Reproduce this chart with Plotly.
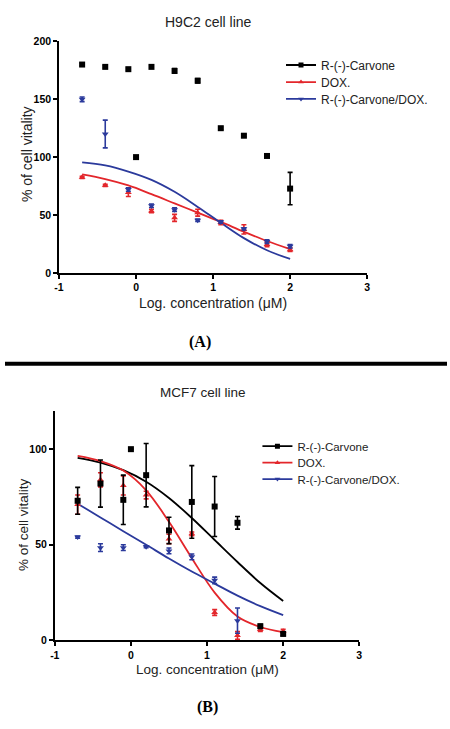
import plotly.graph_objects as go

W, H = 450, 729

# ---------------- data ----------------
log_conc = [-0.7, -0.4, -0.1, 0.2, 0.5, 0.8, 1.1, 1.4, 1.7, 2.0]
carvone_x = [-0.7, -0.4, -0.1, 0.0, 0.2, 0.5, 0.8, 1.1, 1.4, 1.7, 2.0]
fit_x = [-0.7, -0.4, -0.1, 0.2, 0.5, 0.8, 1.1, 1.4, 1.7, 2.0]

# H9C2 (A)
h9c2_carvone = [180, 178, 176, 100, 178, 174.5, 166, 125, 118.5, 101, 72.8]
h9c2_carvone_err = [1, 1, 1, 0, 1, 2, 2, 1, 1, 1, 14]
h9c2_dox = [82.5, 75.6, 69.5, 53.5, 47.5, 52, 43.5, 37.5, 24.5, 20]
h9c2_dox_err = [1, 1, 3.5, 1.5, 3, 3, 2, 4, 2, 1.5]
h9c2_combo = [150, 120, 72, 58, 54.6, 45.5, 44, 38, 27, 23]
h9c2_combo_err = [2, 12, 1.5, 1.5, 1.5, 1, 1, 1, 1.5, 1.5]
h9c2_dox_fit = [85, 81, 75.5, 68, 60, 52, 44, 35.5, 27.5, 20.5]
h9c2_combo_fit = [95.5, 92.8, 87.5, 80.3, 70, 57, 43.3, 30, 19.5, 12]

# MCF7 (B)
mcf7_carvone = [73, 82, 73.5, 100, 86.4, 57.5, 72.4, 70, 61.5, 7.4, 3.4]
mcf7_carvone_err = [7, 12.3, 12.9, 0, 16.6, 6.9, 19, 15.7, 3.3, 1, 1]
mcf7_dox = [71, 84, 81, 76, 53, 55.7, 14.6, 2.6, 5.7, 4.8]
mcf7_dox_err = [5, 3.7, 5, 2, 2.5, 1, 1.5, 2, 1, 1]
combo_x_b = [-0.7, -0.4, -0.1, 0.2, 0.5, 0.8, 1.1, 1.4]
mcf7_combo = [54, 48.5, 48.5, 49, 46.8, 43.7, 31.4, 10.3]
mcf7_combo_err = [0.5, 2, 1.5, 0.5, 1.5, 1.5, 1.7, 6.6]
mcf7_carvone_fit = [95.5, 93, 89, 83, 74.5, 64, 52.5, 41, 30, 20.6]
mcf7_dox_fit = [96.5, 93.8, 88.8, 78.5, 62, 43, 25, 12.5, 7, 4.3]
mcf7_combo_fit = [71.5, 64.3, 57.1, 50, 42.8, 36, 29.7, 23.4, 17.9, 13.2]

series_names = ["R-(-)-Carvone", "DOX.", "R-(-)-Carvone/DOX."]
titles = ["H9C2 cell line", "MCF7 cell line"]
panel_labels = ["(A)", "(B)"]
x_ticks = [-1, 0, 1, 2, 3]
x_ticktext = ["-1", "0", "1", "2", "3"]
y_ticks_a = [0, 50, 100, 150, 200]
y_ticks_b = [0, 50, 100]

BLACK, RED, BLUE = "#000000", "#e3262b", "#2b3a9c"
SYMBOLS = ["square", "triangle-up", "triangle-down"]
COLORS = [BLACK, RED, BLUE]

fig = go.Figure()


def px_x(p):
    return p / W


def px_y(p):
    return (H - p) / H


def add_points(x, y, err, color, symbol, xa, ya):
    fig.add_trace(go.Scatter(
        x=x, y=y, mode="markers", xaxis=xa, yaxis=ya, showlegend=False,
        marker=dict(symbol=symbol, size=6, color=color, line=dict(width=0)),
        error_y=dict(type="data", array=err, visible=True, color=color,
                     thickness=1.6, width=2.5),
        cliponaxis=False,
    ))


def add_curve(x, y, color, xa, ya):
    fig.add_trace(go.Scatter(
        x=x, y=y, mode="lines", xaxis=xa, yaxis=ya, showlegend=False,
        line=dict(color=color, width=1.8, shape="spline", smoothing=1.0),
    ))


# Panel A
add_curve(fit_x, h9c2_dox_fit, RED, "x", "y")
add_curve(fit_x, h9c2_combo_fit, BLUE, "x", "y")
add_points(carvone_x, h9c2_carvone, h9c2_carvone_err, BLACK, "square", "x", "y")
add_points(log_conc, h9c2_dox, h9c2_dox_err, RED, "triangle-up", "x", "y")
add_points(log_conc, h9c2_combo, h9c2_combo_err, BLUE, "triangle-down", "x", "y")

# Panel B
add_curve(fit_x, mcf7_carvone_fit, BLACK, "x2", "y2")
add_curve(fit_x, mcf7_dox_fit, RED, "x2", "y2")
add_curve(fit_x, mcf7_combo_fit, BLUE, "x2", "y2")
add_points(log_conc, mcf7_dox, mcf7_dox_err, RED, "triangle-up", "x2", "y2")
add_points(carvone_x, mcf7_carvone, mcf7_carvone_err, BLACK, "square", "x2", "y2")
add_points(combo_x_b, mcf7_combo, mcf7_combo_err, BLUE, "triangle-down", "x2", "y2")

# Legend entries: one single-item legend per entry, for exact row placement
legend_layout = {}
rows_a = [60, 77.3, 94.5]
rows_b = [447.5, 464.3, 481]
k = 1
for (xa, ya, left, rows, fsize) in [("x", "y", 281, rows_a, 12), ("x2", "y2", 257, rows_b, 11.5)]:
    for name, sym, col, row in zip(series_names, SYMBOLS, COLORS, rows):
        lname = "legend" if k == 1 else "legend%d" % k
        fig.add_trace(go.Scatter(
            x=[None], y=[None], mode="lines+markers", name=name, legend=lname,
            xaxis=xa, yaxis=ya,
            line=dict(color=col, width=1.8),
            marker=dict(symbol=sym, size=5, color=col),
        ))
        legend_layout[lname] = dict(
            x=px_x(left), y=px_y(row), xanchor="left", yanchor="middle",
            font=dict(family="Liberation Sans, Arial", size=fsize, color="#222"),
            bgcolor="rgba(0,0,0,0)", itemwidth=30, borderwidth=0,
        )
        k += 1

axis_common = dict(
    showline=True, linecolor="black", linewidth=1.6, ticks="outside",
    ticklen=4, tickwidth=1.6, tickcolor="black", showgrid=False,
    zeroline=False,
    tickfont=dict(family="Liberation Sans, Arial", size=10.5,
                  color="black", weight="bold"),
)

fig.update_layout(
    width=W, height=H, autosize=False,
    margin=dict(l=0, r=0, t=0, b=0),
    paper_bgcolor="white", plot_bgcolor="white",
    xaxis=dict(domain=[px_x(55), px_x(368.7)], range=[-1, 3],
               tickvals=x_ticks, ticktext=x_ticktext, anchor="y", **axis_common),
    yaxis=dict(domain=[px_y(271.3), px_y(36)], range=[0, 200],
               tickvals=y_ticks_a, anchor="x", **axis_common),
    xaxis2=dict(domain=[px_x(50.7), px_x(360.7)], range=[-1, 3],
                tickvals=x_ticks, ticktext=x_ticktext, anchor="y2", **axis_common),
    yaxis2=dict(domain=[px_y(645), px_y(411.7)], range=[0, 120],
                tickvals=y_ticks_b, anchor="x2", **axis_common),
    showlegend=True,
    **legend_layout,
)

ann_font = dict(family="Liberation Sans, Arial", size=14, color="#222")
annotations = [
    dict(text=titles[0], x=px_x(207), y=px_y(16), font=ann_font),
    dict(text=titles[1], x=px_x(202), y=px_y(393), font=dict(ann_font, size=13.5)),
    dict(text="Log. concentration (\u03bcM)", x=px_x(212), y=px_y(301.7), font=ann_font),
    dict(text="Log. concentration (\u03bcM)", x=px_x(206), y=px_y(675), font=dict(ann_font, size=13.5)),
    dict(text="% of cell vitality", x=px_x(22), y=px_y(151), textangle=-90, font=ann_font),
    dict(text="% of cell vitality", x=px_x(19), y=px_y(527), textangle=-90, font=dict(ann_font, size=13.5)),
    dict(text="<b>" + panel_labels[0] + "</b>", x=px_x(199), y=px_y(341.7),
         font=dict(family="Liberation Serif, Times New Roman", size=16, color="black")),
    dict(text="<b>" + panel_labels[1] + "</b>", x=px_x(205.7), y=px_y(713),
         font=dict(family="Liberation Serif, Times New Roman", size=16, color="black")),
]
for a in annotations:
    a.update(xref="paper", yref="paper", showarrow=False, xanchor="center", yanchor="middle")
fig.update_layout(annotations=annotations)

fig.add_shape(type="line", xref="paper", yref="paper", x0=0, x1=1,
              y0=px_y(363.8), y1=px_y(363.8), line=dict(color="black", width=4))

fig.write_html(
    "out.html",
    config={"displayModeBar": False},
    post_script="document.body.style.margin='0';document.body.style.overflow='hidden';",
)
